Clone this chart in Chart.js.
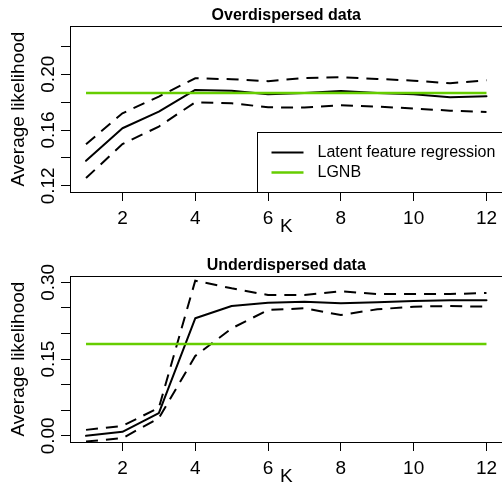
<!DOCTYPE html>
<html>
<head>
<meta charset="utf-8">
<script src="https://cdn.jsdelivr.net/npm/chart.js@4.4.1/dist/chart.umd.min.js"></script>
<style>
	html, body { margin: 0; padding: 0; background: #fff; }
	#page { width: 502px; height: 488px; overflow: hidden; }
	canvas { display: block; }
</style>
</head>
<body>
<div id="page">
	<canvas id="chart-1" width="504" height="250"></canvas>
	<canvas id="chart-2" width="504" height="250"></canvas>
</div>
<script>

var kValues = [1, 2, 3, 4, 5, 6, 7, 8, 9, 10, 11, 12];
var xTicks = [2, 4, 6, 8, 10, 12];
var xRange = [0.56, 12.44];

// Overdispersed data (top panel)
var overMean  = [0.1380, 0.1613, 0.1732, 0.1887, 0.1882, 0.1856, 0.1865, 0.1880, 0.1865, 0.1856, 0.1835, 0.1842];
var overUpper = [0.1498, 0.1720, 0.1840, 0.1971, 0.1964, 0.1950, 0.1973, 0.1978, 0.1966, 0.1954, 0.1935, 0.1957];
var overLower = [0.1256, 0.1499, 0.1625, 0.1799, 0.1792, 0.1763, 0.1761, 0.1778, 0.1768, 0.1754, 0.1739, 0.1730];
var overLgnb  = [0.1865, 0.1865, 0.1865, 0.1865, 0.1865, 0.1865, 0.1865, 0.1865, 0.1865, 0.1865, 0.1865, 0.1865];
var overYRange = [0.1156, 0.2344];
var overYTicks = [0.12, 0.14, 0.16, 0.18, 0.20, 0.22];
var overYLabels = ['0.12', '', '0.16', '', '0.20', ''];

// Underdispersed data (bottom panel)
var underMean  = [0.0000, 0.0078, 0.0443, 0.2297, 0.2538, 0.2602, 0.2622, 0.2590, 0.2610, 0.2635, 0.2648, 0.2648];
var underUpper = [0.0117, 0.0195, 0.0547, 0.3032, 0.2883, 0.2752, 0.2752, 0.2824, 0.2772, 0.2772, 0.2772, 0.2791];
var underLower = [-0.0110, -0.0045, 0.0345, 0.1560, 0.2100, 0.2460, 0.2493, 0.2362, 0.2473, 0.2524, 0.2538, 0.2524];
var underLgnb  = [0.1796, 0.1796, 0.1796, 0.1796, 0.1796, 0.1796, 0.1796, 0.1796, 0.1796, 0.1796, 0.1796, 0.1796];
var underYRange = [-0.012, 0.312];
var underYTicks = [0.00, 0.05, 0.10, 0.15, 0.20, 0.25, 0.30];
var underYLabels = ['0.00', '', '', '0.15', '', '', '0.30'];

var fontFamily = '"Liberation Sans", Arial, Helvetica, sans-serif';
Chart.defaults.font.family = fontFamily;
Chart.defaults.color = '#000';

function points(values) {
	return values.map(function(v, i) { return {x: kValues[i], y: v}; });
}

// box round the plot region + R style legend in the bottom right corner
var boxPlugin = {
	id: 'boxPlugin',
	afterDraw: function(chart) {
		var ctx = chart.ctx;
		var area = chart.chartArea;
		ctx.save();
		ctx.strokeStyle = '#000';
		ctx.lineWidth = 1;
		ctx.strokeRect(Math.round(area.left) + 0.5, Math.round(area.top) + 0.5,
			Math.round(area.right - area.left), Math.round(area.bottom - area.top));

		if (chart.options.plugins.boxPlugin && chart.options.plugins.boxPlugin.legend) {
			var items = chart.data.datasets.filter(function(d) { return d.inLegend; });
			ctx.font = '16px ' + fontFamily;
			var textW = 0;
			items.forEach(function(d) { textW = Math.max(textW, ctx.measureText(d.label).width); });
			var w = textW + 68;
			var h = 60;
			var left = Math.round(area.right - w) + 0.5;
			var top = Math.round(area.bottom - h) + 0.5;
			ctx.fillStyle = '#fff';
			ctx.fillRect(left, top, w + 4, h);
			ctx.strokeStyle = '#000';
			ctx.lineWidth = 1;
			ctx.strokeRect(left, top, w + 4, h);
			items.forEach(function(d, i) {
				var y = top + 20 + i * 20;
				ctx.beginPath();
				ctx.strokeStyle = d.borderColor;
				ctx.lineWidth = d.borderWidth;
				ctx.moveTo(left + 14, y);
				ctx.lineTo(left + 46, y);
				ctx.stroke();
				ctx.fillStyle = '#000';
				ctx.textBaseline = 'middle';
				ctx.textAlign = 'left';
				ctx.fillText(d.label, left + 60, y);
			});
		}
		ctx.restore();
	}
};

function makePanel(canvasId, title, mean, upper, lower, lgnb, yRange, yTicks, yLabels, showLegend) {

	var data1 = {
		datasets: [{
			label: 'Latent feature regression',
			inLegend: true,
			data: points(mean),
			borderColor: '#000',
			borderWidth: 2,
			borderJoinStyle: 'round',
			borderCapStyle: 'round',
			order: 1
		}, {
			label: 'upper',
			data: points(upper),
			borderColor: '#000',
			borderWidth: 2,
			borderDash: [12, 8],
			order: 1
		}, {
			label: 'lower',
			data: points(lower),
			borderColor: '#000',
			borderWidth: 2,
			borderDash: [12, 8],
			order: 1
		}, {
			label: 'LGNB',
			inLegend: true,
			data: points(lgnb),
			borderColor: '#66CD00',
			borderWidth: 2.5,
			order: 0
		}]
	};

	var options1 = {
		responsive: false,
		animation: false,
		events: [],
		elements: {
			point: { radius: 0 },
			line: { tension: 0, fill: false }
		},
		layout: { padding: { top: 0, left: 0, bottom: 0, right: 1.5 } },
		plugins: {
			legend: { display: false },
			tooltip: { enabled: false },
			title: {
				display: true,
				text: title,
				fullSize: false,
				color: '#000',
				font: { size: 16, weight: 'bold' },
				padding: { top: 6, bottom: 1 }
			},
			boxPlugin: { legend: showLegend }
		},
		scales: {
			x: {
				type: 'linear',
				min: xRange[0],
				max: xRange[1],
				afterBuildTicks: function(axis) {
					axis.ticks = xTicks.map(function(v) { return {value: v}; });
				},
				afterFit: function(axis) { axis.height = 58; },
				grid: { drawOnChartArea: false, tickLength: 9, color: '#000' },
				border: { display: true, color: '#000', width: 1 },
				ticks: {
					autoSkip: false,
					maxRotation: 0,
					minRotation: 0,
					padding: 6,
					color: '#000',
					font: { size: 19 }
				},
				title: {
					display: true,
					text: 'K',
					color: '#000',
					font: { size: 19 },
					padding: { top: 0, bottom: 11.6 }
				}
			},
			y: {
				type: 'linear',
				min: yRange[0],
				max: yRange[1],
				afterBuildTicks: function(axis) {
					axis.ticks = yTicks.map(function(v) { return {value: v}; });
				},
				afterFit: function(axis) { axis.width = 70; },
				grid: { drawOnChartArea: false, tickLength: 9, color: '#000' },
				border: { display: true, color: '#000', width: 1 },
				ticks: {
					autoSkip: false,
					minRotation: 90,
					maxRotation: 90,
					crossAlign: 'center',
					padding: -6,
					color: '#000',
					font: { size: 19 },
					callback: function(value, index) { return yLabels[index]; }
				},
				title: {
					display: true,
					text: 'Average likelihood',
					color: '#000',
					font: { size: 19 },
					padding: { top: 7, bottom: 0 }
				}
			}
		}
	};

	var graph = new Chart(canvasId, {
		type: 'line',
		data: data1,
		options: options1,
		plugins: [boxPlugin]
	});
	return graph;
}

makePanel('chart-1', 'Overdispersed data', overMean, overUpper, overLower, overLgnb,
	overYRange, overYTicks, overYLabels, true);
makePanel('chart-2', 'Underdispersed data', underMean, underUpper, underLower, underLgnb,
	underYRange, underYTicks, underYLabels, false);

</script>
</body>
</html>
